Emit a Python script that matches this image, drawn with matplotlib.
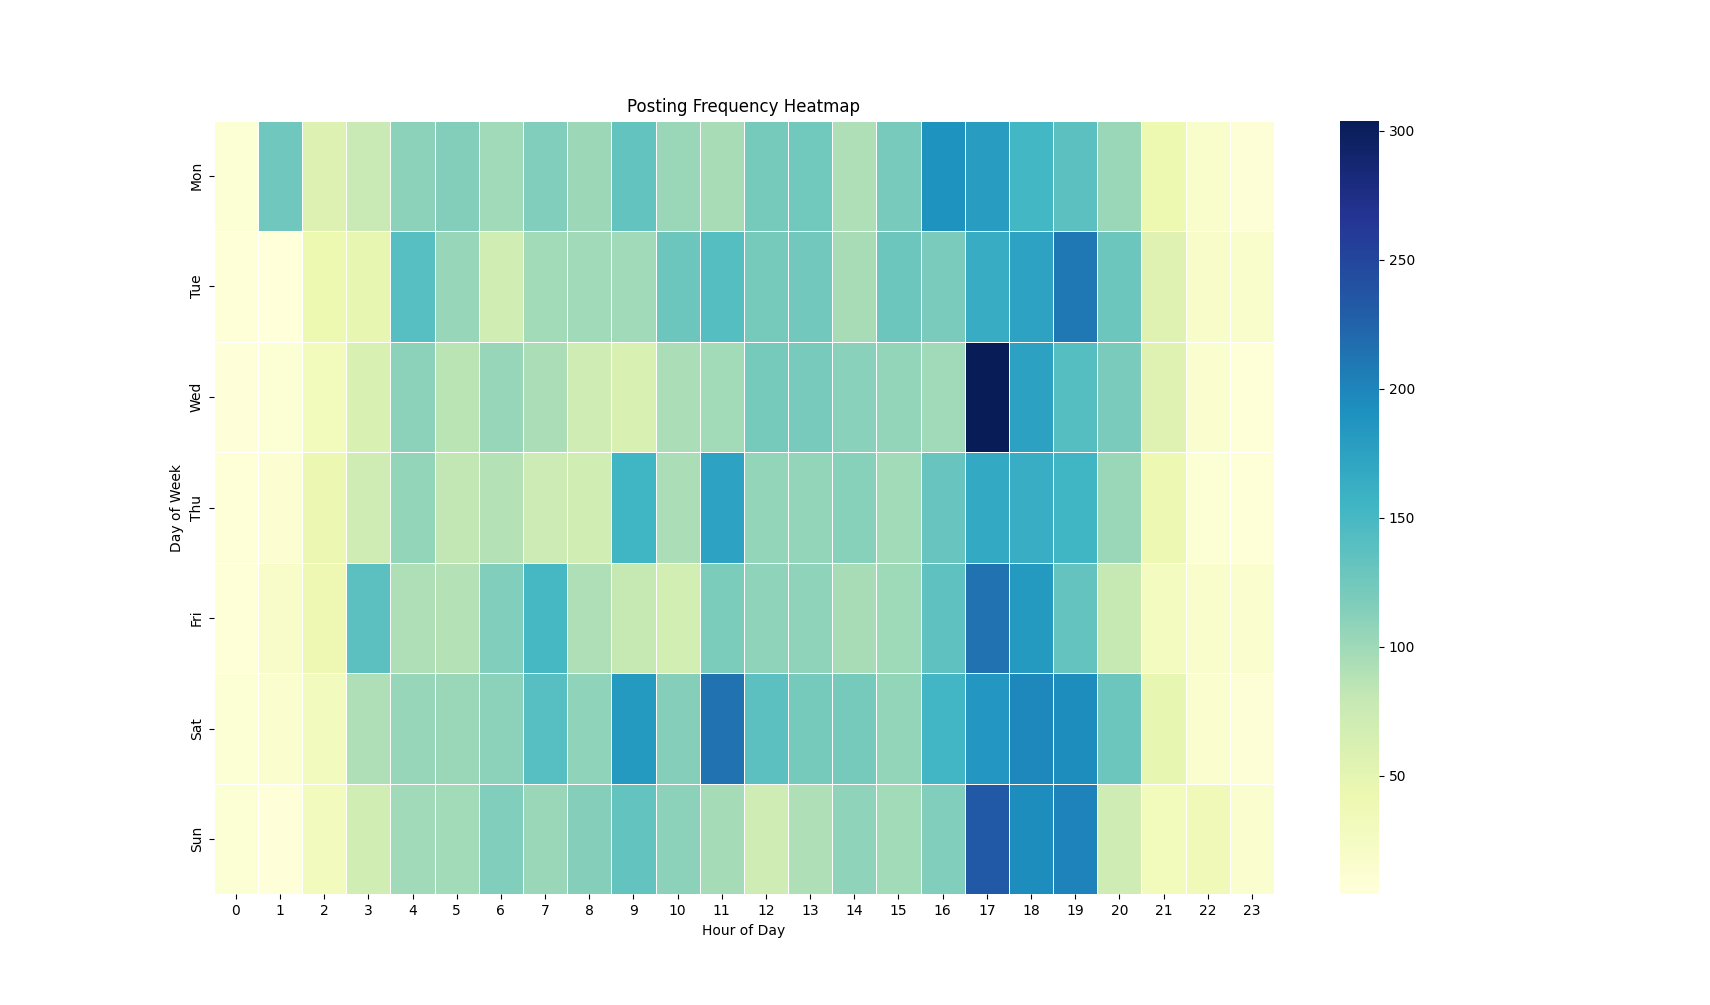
import matplotlib
matplotlib.use("Agg")
import matplotlib.pyplot as plt
import seaborn as sns
import pandas as pd

days = ["Mon", "Tue", "Wed", "Thu", "Fri", "Sat", "Sun"]
hours = list(range(24))

mon = [10, 127, 57, 77, 110, 115, 99, 116, 102, 134, 103, 96, 122, 125, 93, 121, 190, 180, 152, 137, 103, 42, 18, 8]
tue = [7, 4, 42, 48, 140, 104, 70, 98, 99, 99, 128, 142, 122, 124, 96, 128, 119, 164, 175, 210, 128, 56, 20, 17]
wed = [6, 10, 32, 62, 110, 86, 104, 94, 72, 62, 94, 98, 122, 121, 111, 106, 100, 304, 176, 142, 119, 56, 15, 7]
thu = [7, 12, 43, 72, 107, 82, 89, 74, 70, 155, 94, 174, 106, 106, 112, 98, 131, 168, 163, 155, 103, 41, 10, 7]
fri = [7, 20, 40, 137, 93, 89, 116, 151, 92, 79, 68, 118, 109, 109, 96, 101, 136, 214, 183, 132, 79, 28, 18, 15]
sat = [10, 15, 30, 92, 104, 103, 110, 140, 109, 183, 113, 214, 137, 122, 122, 107, 153, 185, 198, 195, 128, 48, 15, 8]
sun = [10, 6, 30, 70, 99, 98, 116, 103, 113, 134, 110, 97, 72, 93, 109, 98, 116, 233, 195, 202, 72, 32, 36, 15]

data = pd.DataFrame([mon, tue, wed, thu, fri, sat, sun], index=days, columns=hours)

fig = plt.figure(figsize=(17.1, 10.05), dpi=100)
ax = sns.heatmap(data, cmap="YlGnBu", linewidths=0.5, linecolor="white")
ax.set_title("Posting Frequency Heatmap")
ax.set_xlabel("Hour of Day")
ax.set_ylabel("Day of Week")
fig.savefig("out.png", dpi=100)
